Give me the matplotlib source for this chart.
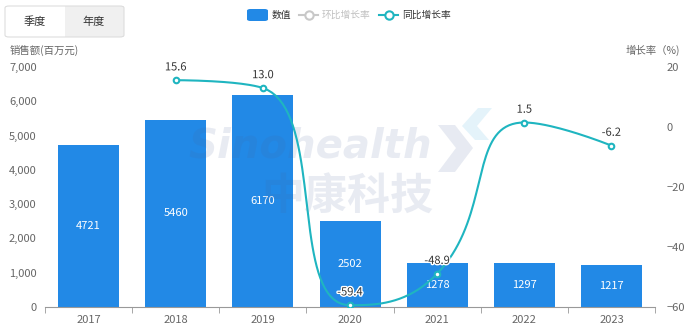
import numpy as np
import matplotlib
matplotlib.use("Agg")
import matplotlib.pyplot as plt
import matplotlib.patheffects as pe
from matplotlib.patches import FancyBboxPatch, Rectangle, Polygon
from matplotlib.lines import Line2D

plt.rcParams["font.family"] = ["Noto Sans CJK SC", "DejaVu Sans"]

years = ["2017", "2018", "2019", "2020", "2021", "2022", "2023"]
sales = [4721, 5460, 6170, 2502, 1278, 1297, 1217]
yoy = [None, 15.6, 13.0, -59.4, -48.9, 1.5, -6.2]

BAR = "#2289e6"
LINE = "#1fb5c0"
GRAY = "#666666"
WM = "#48619b"  # watermark colour, drawn with low alpha


def smooth_curve(xs, ys, sx=87.1, sy=3.0, smooth=0.5, n=40):
    """Echarts-style smoothed line: bezier with control points clamped per segment."""
    P = np.column_stack([np.asarray(xs, float) * sx, np.asarray(ys, float) * sy])
    t = np.linspace(0, 1, n)[:, None]
    out = []
    cp_out = P[0].copy()
    for i in range(len(P) - 1):
        p, q = P[i], P[i + 1]
        if i + 1 == len(P) - 1:
            cp_in, nxt_out = q.copy(), q.copy()
        else:
            r = P[i + 2]
            v = r - p
            lp = np.hypot(*(q - p))
            ln = np.hypot(*(r - q))
            nc = q + v * smooth * ln / (ln + lp)
            nc = np.clip(nc, np.minimum(q, r), np.maximum(q, r))
            v = nc - q
            c0 = q - v * lp / ln
            c0 = np.clip(c0, np.minimum(p, q), np.maximum(p, q))
            v = q - c0
            nxt_out = q + v * ln / lp
            cp_in = c0
        seg = ((1 - t) ** 3 * p + 3 * (1 - t) ** 2 * t * cp_out
               + 3 * (1 - t) * t ** 2 * cp_in + t ** 3 * q)
        out.append(seg if i == 0 else seg[1:])
        cp_out = nxt_out
    out = np.vstack(out)
    return out[:, 0] / sx, out[:, 1] / sy


W, H = 686, 330
fig = plt.figure(figsize=(W / 100, H / 100), dpi=100)
ax = fig.add_axes([45 / W, 23 / H, 610 / W, 240 / H])
ax2 = ax.twinx()

x = np.arange(len(years))
ax.bar(x, sales, width=0.7, color=BAR, zorder=2)
for xi, v in zip(x, sales):
    ax.text(xi, v / 2, str(v), ha="center", va="center", color="white", fontsize=8, zorder=3)

ax.set_xlim(-0.5, len(years) - 0.5)
ax.set_ylim(0, 7000)
ax.set_yticks(range(0, 7001, 1000))
ax.set_yticklabels([f"{v:,}" for v in range(0, 7001, 1000)])
ax.set_xticks(x)
ax.set_xticklabels(years)
ax.set_xticks(np.arange(-0.5, len(years), 1), minor=True)
ax.tick_params(axis="x", which="major", length=0, pad=6, labelsize=8, labelcolor=GRAY)
ax.tick_params(axis="x", which="minor", length=4, color="#999999", direction="out")
ax.tick_params(axis="y", length=0, labelsize=8, labelcolor=GRAY, pad=6)
for s in ["top", "right", "left"]:
    ax.spines[s].set_visible(False)
ax.spines["bottom"].set_color("#999999")

# watermark (faint, on top of the bars)
ax.text(2.54, 4667, "Sinohealth", ha="center", va="center", fontsize=29, fontweight="bold",
        style="italic", color=WM, alpha=0.12, family="DejaVu Sans", zorder=3.5)
ax.text(2.97, 3208, "中康科技", ha="center", va="center", fontsize=31, fontweight="bold",
        color=WM, alpha=0.12, zorder=3.5)
chev_gray = [(438, 125), (455, 125), (473, 148), (455, 172), (438, 172), (456, 148)]
chev_blue = [(462, 126), (478, 108), (492, 108), (477, 126), (489, 140), (475, 140)]
for pts, col, a in [(chev_gray, WM, 0.13), (chev_blue, "#35a8dc", 0.13)]:
    fig.patches.append(Polygon([(px / W, 1 - py / H) for px, py in pts], closed=True,
                               transform=fig.transFigure, facecolor=col, alpha=a,
                               edgecolor="none", zorder=0))

# growth line
lx = [i for i, v in enumerate(yoy) if v is not None]
ly = [v for v in yoy if v is not None]
cx, cy = smooth_curve(lx, ly)
ax2.plot(cx, cy, color=LINE, lw=1.5, zorder=4, clip_on=False)
ax2.plot(lx, ly, ls="none", marker="o", ms=4, mfc="white", mec=LINE, mew=1.5, zorder=5)
for xi, v in zip(lx, ly):
    t = ax2.text(xi, v + 2.6, f"{v:.1f}", ha="center", va="bottom", fontsize=8,
                 color="#333333", zorder=6)
    t.set_path_effects([pe.withStroke(linewidth=2, foreground="white")])
ax2.set_ylim(-60, 20)
ax2.set_yticks(range(-60, 21, 20))
ax2.tick_params(axis="y", length=0, labelsize=8, labelcolor=GRAY, pad=8)
for s in ["top", "right", "left", "bottom"]:
    ax2.spines[s].set_visible(False)
ax.set_zorder(ax2.get_zorder() - 1)
ax.patch.set_visible(False)

# axis titles
fig.text(10 / W, 1 - 50 / H, "销售额(百万元)", fontsize=7.5, color=GRAY, va="center", ha="left")
fig.text(680 / W, 1 - 50 / H, "增长率（%)", fontsize=7.5, color=GRAY, va="center", ha="right")

# period switch buttons
fig.patches.append(Rectangle((65 / W, 1 - 37 / H), 59 / W, 31 / H, transform=fig.transFigure,
                             facecolor="#f0f0f0", edgecolor="none"))
fig.patches.append(FancyBboxPatch((5 / W, 1 - 37 / H), 119 / W, 31 / H, transform=fig.transFigure,
                                  boxstyle="round,pad=0,rounding_size=0.006", facecolor="none",
                                  edgecolor="#dddddd", lw=0.8))
fig.text(35 / W, 1 - 22 / H, "季度", fontsize=8, color="#333333", ha="center", va="center")
fig.text(94 / W, 1 - 22 / H, "年度", fontsize=8, color="#333333", ha="center", va="center")

# legend
ly0 = 1 - 15 / H
fig.patches.append(FancyBboxPatch((247 / W, 1 - 21 / H), 21 / W, 12 / H, transform=fig.transFigure,
                                  boxstyle="round,pad=0,rounding_size=0.005", facecolor=BAR,
                                  edgecolor="none"))
fig.text(272 / W, ly0, "数值", fontsize=7, color="#333333", va="center")
for x0, col, lab, tcol in [(299, "#c8c8c8", "环比增长率", "#c0c0c0"),
                           (379, LINE, "同比增长率", "#333333")]:
    fig.lines.append(Line2D([x0 / W, (x0 + 19) / W], [ly0] * 2, transform=fig.transFigure,
                            color=col, lw=1.5))
    fig.lines.append(Line2D([(x0 + 9.5) / W], [ly0], transform=fig.transFigure, marker="o",
                            ms=6, mfc="white", mec=col, mew=1.5))
    fig.text((x0 + 23) / W, ly0, lab, fontsize=7, color=tcol, va="center")

fig.savefig("out.png", dpi=100)
